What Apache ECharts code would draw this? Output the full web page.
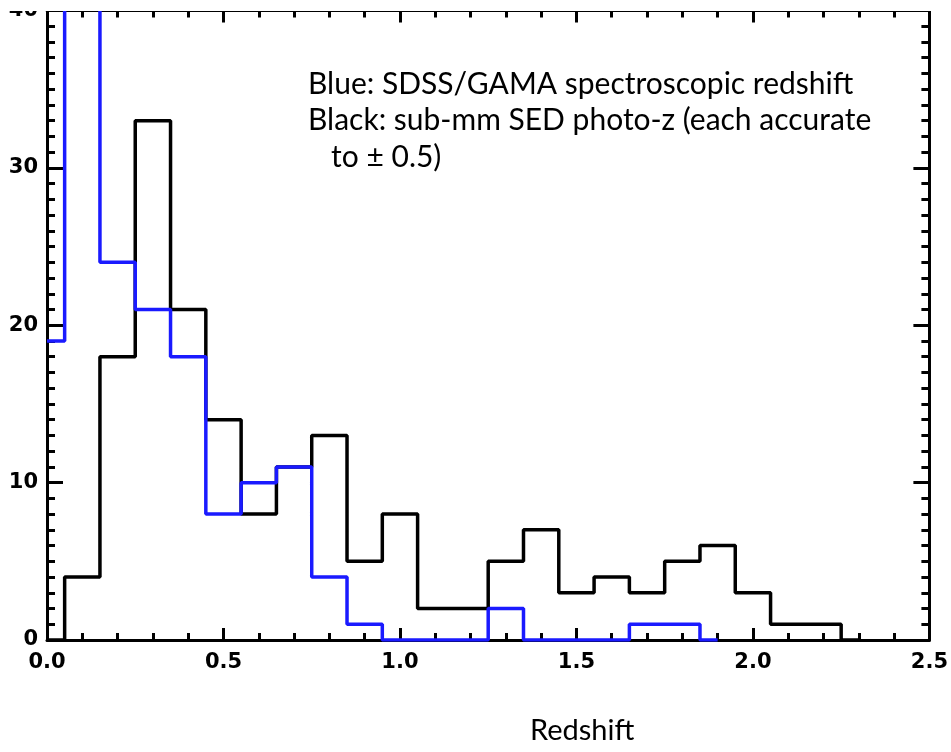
<!DOCTYPE html>
<html>
<head>
<meta charset="utf-8">
<script src="https://cdn.jsdelivr.net/npm/echarts@6/dist/echarts.min.js"></script>
<style>
html,body{margin:0;padding:0;background:#fff;}
#chart{width:951px;height:752px;}
</style>
</head>
<body>
<div id="chart"></div>
<script>
// Bin centres (redshift), bin width 0.1
var binCenters = [0.0,0.1,0.2,0.3,0.4,0.5,0.6,0.7,0.8,0.9,1.0,1.1,1.2,1.3,1.4,1.5,1.6,1.7,1.8,1.9,2.0,2.1,2.2,2.3];
// Blue: SDSS/GAMA spectroscopic redshift counts (bin 0.1 goes off the top)
var blueCounts = [19,45,24,21,18,8,10,11,4,1,0,0,0,2,0,0,0,1,1,0];
// Black: sub-mm SED photo-z counts
var blackCounts = [0,4,18,33,21,14,8,11,13,5,8,2,2,5,7,3,4,3,5,6,3,1,1,0];
var xTicks = [0.0,0.5,1.0,1.5,2.0,2.5];
var yTicks = [0,10,20,30,40];
var annotationLines = ['Blue: SDSS/GAMA spectroscopic redshift','Black: sub-mm SED photo-z (each accurate','   to \u00b1 0.5)'];
var xTitle = 'Redshift';

function pairs(counts){
  var out = [];
  for (var i = 0; i < counts.length; i++) out.push([binCenters[i], counts[i]]);
  return out;
}

var chart = echarts.init(document.getElementById('chart'), null, {renderer:'canvas'});
var labelFont = {fontFamily:'DejaVu Sans', fontWeight:'bold', fontSize:21, color:'#000'};
function xAxisCfg(pos, showLabel){
  return {
    type:'value', position:pos, min:0, max:2.5, interval:0.5,
    axisLine:{show:true, onZero:false, lineStyle:{color:'#000', width:3}},
    axisTick:{show:true, inside:true, length:12, lineStyle:{color:'#000', width:3}},
    minorTick:{show:true, splitNumber:5, length:7, lineStyle:{color:'#000', width:3}},
    splitLine:{show:false},
    axisLabel:Object.assign({show:showLabel, margin:12, formatter:function(v){return v.toFixed(1);}}, labelFont)
  };
}
function yAxisCfg(pos, showLabel){
  return {
    type:'value', position:pos, min:0, max:40, interval:10,
    axisLine:{show:true, onZero:false, lineStyle:{color:'#000', width:3}},
    axisTick:{show:true, inside:true, length:16, lineStyle:{color:'#000', width:3}},
    minorTick:{show:true, splitNumber:10, length:8, lineStyle:{color:'#000', width:3}},
    splitLine:{show:false},
    axisLabel:Object.assign({show:showLabel, margin:9}, labelFont)
  };
}

var graphics = [];
for (var i = 0; i < annotationLines.length; i++) {
  graphics.push({type:'text', left:308, top:69 + i*36.5, z:10,
    style:{text:annotationLines[i], fill:'#000', font:'30px Lato'}});
}
graphics.push({type:'text', left:530, top:716, z:10, style:{text:xTitle, fill:'#000', font:'29px Lato'}});
// crop band at the top like the reference picture
graphics.push({type:'rect', left:0, top:0, z:100, shape:{width:951, height:11}, style:{fill:'#fff'}});

chart.setOption({
  animation:false,
  backgroundColor:'#fff',
  grid:{left:47, right:18, top:8, bottom:112, containLabel:false},
  xAxis:[xAxisCfg('bottom', true), xAxisCfg('top', false)],
  yAxis:[yAxisCfg('left', true), yAxisCfg('right', false)],
  series:[
    {type:'line', name:'Black', step:'middle', showSymbol:false, symbol:'none', clip:true,
     data:pairs(blackCounts), lineStyle:{color:'#000', width:3.5}, z:3},
    {type:'line', name:'Blue', step:'middle', showSymbol:false, symbol:'none', clip:true,
     data:pairs(blueCounts), lineStyle:{color:'#1a1aff', width:3.5}, z:4}
  ],
  graphic:graphics
});
</script>
</body>
</html>
